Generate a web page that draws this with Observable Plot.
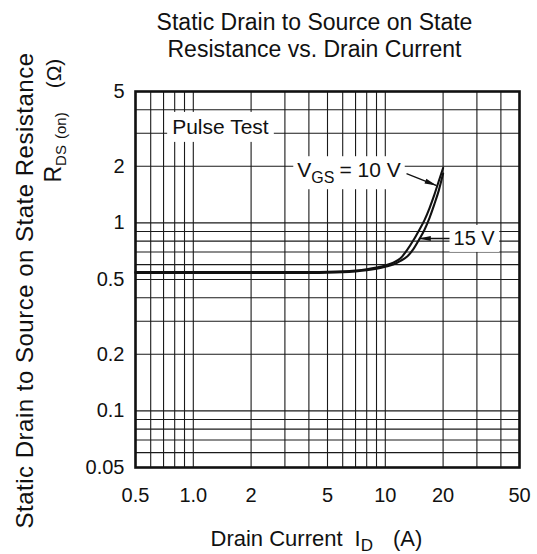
<!DOCTYPE html>
<html><head><meta charset="utf-8">
<script src="https://cdn.jsdelivr.net/npm/d3@7"></script>
<script src="https://cdn.jsdelivr.net/npm/@observablehq/plot@0.6"></script>
<style>
html,body{margin:0;padding:0;background:#fff;}
svg{display:block;}
</style></head><body><div id="chart"></div>
<script>
// ---- data ----
const xGrid = [0.5,0.6,0.7,0.8,0.9,1,2,3,4,5,6,7,8,9,10,20,30,40,50];
const yGrid = [0.05,0.06,0.07,0.08,0.09,0.1,0.2,0.3,0.4,0.5,0.6,0.7,0.8,0.9,1,2,3,4,5];
const xTicks = [0.5,1,2,5,10,20,50];
const xTickLabels = ["0.5","1.0","2","5","10","20","50"];
const yTicks = [0.05,0.1,0.2,0.5,1,2,5];
const yTickLabels = ["0.05","0.1","0.2","0.5","1","2","5"];

const current = [0.5,1,2,3,4,5,6,7,8,9,10,11,12,13,14,15,16,17,18,19,20];
const rds10V = [0.548,0.548,0.548,0.548,0.548,0.549,0.552,0.558,0.567,0.579,0.594,0.614,0.648,0.718,0.808,0.915,1.035,1.20,1.41,1.67,1.96];
const rds15V = [0.542,0.542,0.542,0.542,0.542,0.543,0.546,0.552,0.560,0.571,0.585,0.600,0.628,0.662,0.725,0.815,0.920,1.065,1.255,1.49,1.83];

const titleLines = ["Static Drain to Source on State", "Resistance vs. Drain Current"];
const yLabelMain = "Static Drain to Source on State Resistance";
const yLabelUnit = "RDS(on)(Ω)";
const xLabel = "Drain Current ID(A)";

const annText = ["Pulse Test", "VGS = 10 V", "15 V"];
const annI = [0.776, 3.48, 22.66];
const annR = [3.23, 1.90, 0.826];
const annSize = [21, 21, 20];

const arrowFromI = [12.9, 22.0];
const arrowFromR = [1.83, 0.826];
const arrowToI = [18.5, 14.95];
const arrowToR = [1.58, 0.826];
const arrowAngle = [111.5, 270];

// ---- tables ----
const curves = [
  ...current.map((I, i) => ({I, R: rds10V[i], vgs: "10 V"})),
  ...current.map((I, i) => ({I, R: rds15V[i], vgs: "15 V"}))
];
const anns = annText.map((t, i) => ({t, I: annI[i], R: annR[i], size: annSize[i]}));
const arrows = arrowFromI.map((d, i) => ({x1: d, y1: arrowFromR[i], x2: arrowToI[i], y2: arrowToR[i], a: arrowAngle[i]}));

const font = "'Liberation Sans', Arial, Helvetica, sans-serif";
const ink = "#111";

const plot = Plot.plot({
  width: 537, height: 554,
  marginLeft: 135, marginRight: 18, marginTop: 91, marginBottom: 87,
  style: {fontFamily: font, fontSize: "20px", background: "white", color: ink, overflow: "visible"},
  x: {type: "log", domain: [0.5, 50]},
  y: {type: "log", domain: [0.05, 5]},
  marks: [
    Plot.gridX({ticks: xGrid, stroke: "#1a1a1a", strokeOpacity: 1, strokeWidth: 1.1}),
    Plot.gridY({ticks: yGrid, stroke: "#1a1a1a", strokeOpacity: 1, strokeWidth: 1.1}),
    Plot.line(curves, {x: "I", y: "R", z: "vgs", stroke: ink, strokeWidth: 2.1, curve: "monotone-x"}),
    Plot.link(arrows, {x1: "x1", y1: "y1", x2: "x2", y2: "y2", stroke: ink, strokeWidth: 1.3}),
    Plot.vector(arrows, {x: "x2", y: "y2", rotate: "a", length: 12, r: 2.6, shape: "spike", anchor: "end", fill: ink, stroke: "none"}),
    ...anns.map(a => Plot.text([a], {x: "I", y: "R", text: "t", textAnchor: "start", lineAnchor: "middle", fontSize: a.size, fill: ink})),
    Plot.frame({stroke: ink, strokeWidth: 2.6}),
    Plot.axisX({ticks: xTicks, tickFormat: d => xTickLabels[xTicks.indexOf(d)], tickSize: 0, tickPadding: 20, fontSize: 20, label: null}),
    Plot.axisY({ticks: yTicks, tickFormat: d => yTickLabels[yTicks.indexOf(d)], tickSize: 0, tickPadding: 11, fontSize: 20, label: null}),
    Plot.text([titleLines[0]], {text: d => d, frameAnchor: "top", dx: -13, dy: -69, fontSize: 23, lineAnchor: "middle", fill: ink}),
    Plot.text([titleLines[1]], {text: d => d, frameAnchor: "top", dx: -13, dy: -42, fontSize: 23, lineAnchor: "middle", fill: ink}),
    Plot.text([yLabelMain], {text: d => d, frameAnchor: "top-left", rotate: -90, textAnchor: "end", lineAnchor: "middle", dx: -110, dy: -39, fontSize: 24, fill: ink}),
    Plot.text([yLabelUnit], {text: d => d, frameAnchor: "top-left", rotate: -90, textAnchor: "start", lineAnchor: "middle", dx: -82, dy: 91, fontSize: 23, fill: ink}),
    Plot.text([xLabel], {text: d => d, frameAnchor: "bottom", textAnchor: "start", lineAnchor: "middle", dx: -117, dy: 71, fontSize: 22, fill: ink})
  ]
});

document.getElementById("chart").appendChild(plot);

// ---- rich text (subscripts) and label boxes ----
const NS = "http://www.w3.org/2000/svg";
function findText(str) {
  return Array.from(plot.querySelectorAll("text")).find(t => t.textContent === str);
}
function rich(el, parts) {
  if (!el) return;
  el.textContent = "";
  for (const p of parts) {
    const s = document.createElementNS(NS, "tspan");
    s.textContent = p.t;
    if (p.size) s.setAttribute("font-size", p.size);
    if (p.dx != null) s.setAttribute("dx", p.dx);
    if (p.dy != null) s.setAttribute("dy", p.dy);
    el.appendChild(s);
  }
}
function box(el, pad) {
  if (!el) return;
  const b = el.getBBox();
  const r = document.createElementNS(NS, "rect");
  r.setAttribute("x", b.x - pad);
  r.setAttribute("y", b.y - pad + 2);
  r.setAttribute("width", b.width + 2 * pad);
  r.setAttribute("height", b.height + 2 * pad - 3);
  r.setAttribute("fill", "white");
  r.setAttribute("stroke", "none");
  const tr = el.getAttribute("transform");
  if (tr) r.setAttribute("transform", tr);
  el.parentNode.insertBefore(r, el);
}

const tVgs = findText("VGS = 10 V");
rich(tVgs, [{t: "V"}, {t: "GS", size: 16, dy: 6}, {t: "= 10 V", dx: 5, dy: -6}]);
const tPulse = findText("Pulse Test");
const t15 = findText("15 V");
box(tPulse, 5);
box(tVgs, 4);
box(t15, 4);

const tMain = findText(yLabelMain);
if (tMain) tMain.setAttribute("letter-spacing", "0.5");
rich(findText(yLabelUnit), [{t: "R"}, {t: "DS", size: 15, dy: 5}, {t: "(on)", size: 15, dx: 6}, {t: "(Ω)", size: 21, dx: 24, dy: -5}]);
rich(findText(xLabel), [{t: "Drain Current"}, {t: "I", dx: 12}, {t: "D", size: 17, dy: 5}, {t: "(A)", dx: 20, dy: -5}]);
</script>
</body></html>
